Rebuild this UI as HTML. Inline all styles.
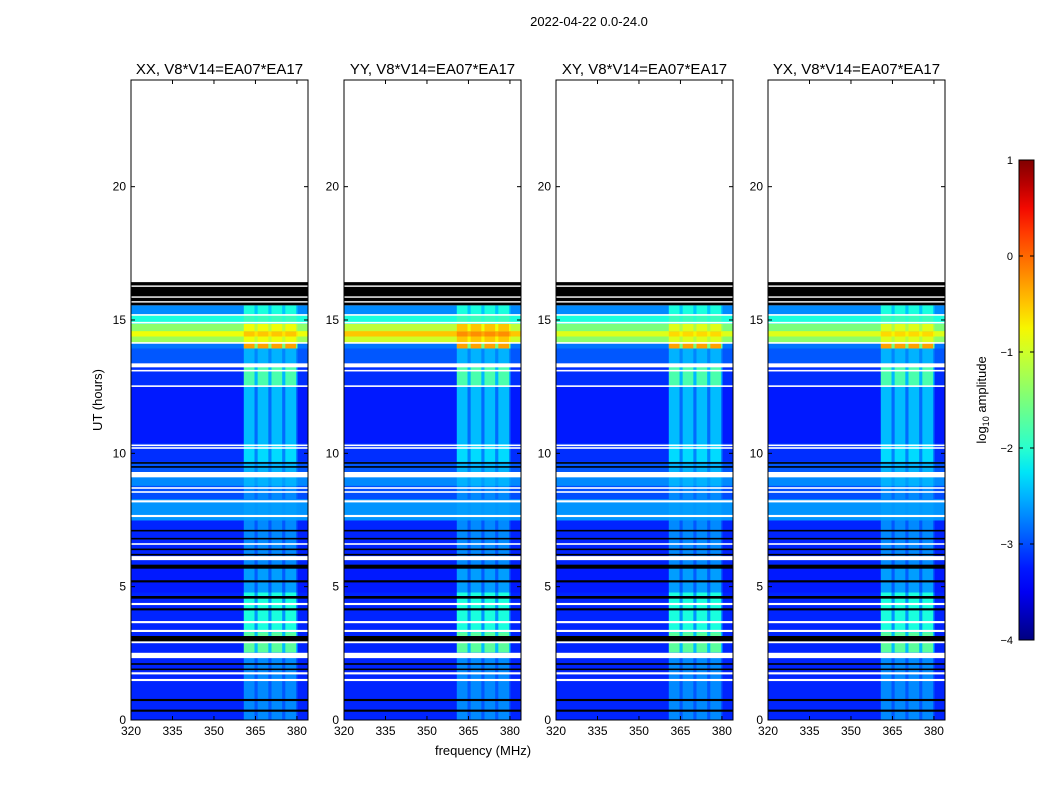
<!DOCTYPE html>
<html><head><meta charset="utf-8"><style>
body{margin:0;background:#fff;}
svg text{font-family:"Liberation Sans",sans-serif;fill:#000;}
</style></head><body>
<svg id="chart" width="1050" height="800" viewBox="0 0 1050 800" xmlns="http://www.w3.org/2000/svg">
<rect width="1050" height="800" fill="#fff"/>
<text x="589" y="26" font-size="13" text-anchor="middle">2022-04-22 0.0-24.0</text>
<text x="483" y="755" font-size="13" text-anchor="middle">frequency (MHz)</text>
<text transform="translate(102,400) rotate(-90)" font-size="13" text-anchor="middle">UT (hours)</text>
<g id="panels"></g>
<g id="cbar"></g>
</svg>
<script>
// ---- data ----
const panelTitles = ["XX, V8*V14=EA07*EA17","YY, V8*V14=EA07*EA17","XY, V8*V14=EA07*EA17","YX, V8*V14=EA07*EA17"];
const xTicks = [320,335,350,365,380];
const yTicks = [0,5,10,15,20];
const cbarTicks = [1,0,-1,-2,-3,-4];
// time bands: start hr, end hr, background log10 amp, RFI-column log10 amp
const bandStart = [0,   2.55, 3.3, 4.8, 5.8, 7.5, 8.3, 8.8, 9.3, 9.7, 10.4, 12.55, 13.4, 13.95, 14.15, 14.4, 14.6, 14.87, 15.2];
const bandEnd   = [2.55,3.3,  4.8, 5.8, 7.5, 8.3, 8.8, 9.3, 9.7, 10.4, 12.55,13.4, 13.95, 14.15, 14.4, 14.6, 14.87, 15.2, 15.55];
const bandBg    = [-3.2,-3.2,-3.2,-3.25,-3.2,-2.65,-3.0,-2.7,-2.95,-3.15,-3.25,-3.15,-2.95,-2.8,-1.3,-0.8,-1.4,-2.1,-2.7];
const bandRfi   = [-2.7,-1.7,-2.1,-2.6,-2.7,-2.6,-2.7,-2.5,-2.5,-2.3,-2.45,-1.8,-2.5,-0.3,-0.8,-0.5,-0.8,-1.9,-2.1];
// per-panel offsets for the strong 14.2-14.8 h band
const panelBandBoost = [0, 0.3, -0.1, -0.1];
// RFI channel groups (MHz)
const rfiLo = [360.8, 365.8, 370.8, 375.8];
const rfiHi = [365.2, 370.2, 375.2, 380.2];
// flagged rows (white) center hr, thickness hr
const whiteT = [1.5,1.75,2.42,2.92,3.34,3.67,4.35,6.07,6.6,7.65,8.2,8.55,8.7,9.2,10.2,10.3,12.52,13.1,13.3,14.14,14.9,15.19];
const whiteW = [0.08,0.08,0.2,0.08,0.08,0.08,0.08,0.15,0.06,0.08,0.08,0.06,0.06,0.2,0.06,0.06,0.06,0.06,0.15,0.06,0.06,0.06];
// dark rows (black) center hr, thickness hr
const blackT = [0.35,0.75,1.9,2.1,3.05,4.15,4.6,5.2,5.75,6.2,6.4,6.8,7.1,9.49,9.64];
const blackW = [0.08,0.08,0.06,0.06,0.2,0.08,0.1,0.08,0.15,0.06,0.06,0.06,0.06,0.06,0.06];
// black flagged block and white lines within it
const blockStart = 15.55, blockEnd = 16.42;
const blockWhite = [15.68,15.86,16.27];

// ---- helpers ----
function jet(v){
  v=Math.max(0,Math.min(1,v));
  const r=Math.max(0,Math.min(1,v<0.89?(v-0.35)/0.31:1-(v-0.89)/0.22));
  const g=Math.max(0,Math.min(1,v<0.64?(v-0.125)/0.25:(0.91-v)/0.27));
  const b=Math.max(0,Math.min(1,v<0.34?0.5+v/0.22:(0.65-v)/0.31));
  return `rgb(${Math.round(r*255)},${Math.round(g*255)},${Math.round(b*255)})`;
}
const col = lv => jet((lv+4)/5);
const NS="http://www.w3.org/2000/svg";
function mk(tag,attrs,parent){const e=document.createElementNS(NS,tag);for(const k in attrs)e.setAttribute(k,attrs[k]);parent.appendChild(e);return e;}

const panelX=[131,344,556,768], PW=177, PT=80, PH=640;
const panels=document.getElementById('panels');
panelX.forEach((x0,pi)=>{
  const g=mk('g',{},panels);
  
  
  const xs=f=>x0+(f-320)/64*PW;
  const ys=t=>PT+PH-t/24*PH;
  bandStart.forEach((t0,i)=>{
    const boost=(bandStart[i]>=14.15&&bandEnd[i]<=14.87)?panelBandBoost[pi]:0;
    const r=mk('rect',{x:x0,y:ys(bandEnd[i]),width:PW,height:ys(t0)-ys(bandEnd[i])+0.5,fill:col(bandBg[i]+boost)},g);
    
    
    const gap=mk('rect',{x:xs(rfiLo[0]),y:ys(bandEnd[i]),width:xs(rfiHi[3])-xs(rfiLo[0]),height:ys(t0)-ys(bandEnd[i])+0.5,fill:col((bandBg[i]+bandRfi[i])/2+boost)},g);
    
    
    rfiLo.forEach((lo,j)=>{
      const c=mk('rect',{x:xs(lo),y:ys(bandEnd[i]),width:xs(rfiHi[j])-xs(lo)-1.5,height:ys(t0)-ys(bandEnd[i])+0.5,fill:col(bandRfi[i]+boost)},g);
      
      
    });
  });
  const blk=mk('rect',{x:x0,y:ys(blockEnd),width:PW,height:ys(blockStart)-ys(blockEnd),fill:'#000'},g);
  
  
  blockWhite.forEach(t=>{const l=mk('rect',{x:x0,y:ys(t)-0.7,width:PW,height:1.4,fill:'#fff'},g);
    });
  whiteT.forEach((t,i)=>{const l=mk('rect',{x:x0,y:ys(t+whiteW[i]/2),width:PW,height:whiteW[i]/24*PH,fill:'#fff'},g);
    });
  blackT.forEach((t,i)=>{const l=mk('rect',{x:x0,y:ys(t+blackW[i]/2),width:PW,height:blackW[i]/24*PH,fill:'#000'},g);
    });
  const fr=mk('rect',{x:x0,y:PT,width:PW,height:PH,fill:'none',stroke:'#000','stroke-width':1},g);
  
  const tt=mk('text',{x:x0+PW/2,y:74,'font-size':15,'text-anchor':'middle'},g);tt.textContent=panelTitles[pi];
  
  xTicks.forEach(v=>{const x=xs(v);
    mk('line',{x1:x,x2:x,y1:PT+PH,y2:PT+PH-4,stroke:'#000'},g);
    mk('line',{x1:x,x2:x,y1:PT,y2:PT+4,stroke:'#000'},g);
    const t=mk('text',{x:x,y:PT+PH+15,'font-size':12,'text-anchor':'middle'},g);t.textContent=v;
    });
  yTicks.forEach(v=>{const y=ys(v);
    mk('line',{x1:x0,x2:x0+4,y1:y,y2:y,stroke:'#000'},g);
    mk('line',{x1:x0+PW,x2:x0+PW-4,y1:y,y2:y,stroke:'#000'},g);
    const t=mk('text',{x:x0-5,y:y+4,'font-size':12,'text-anchor':'end'},g);t.textContent=v;
    });
});

// colorbar
const cb=document.getElementById('cbar');


const CX=1019,CW=15,CT=160,CH=480;
const defs=mk('defs',{},cb);
const grad=mk('linearGradient',{id:'jetg',x1:0,y1:1,x2:0,y2:0},defs);
for(let i=0;i<=20;i++) mk('stop',{offset:i/20,'stop-color':jet(i/20)},grad);
mk('rect',{x:CX,y:CT,width:CW,height:CH,fill:'url(#jetg)',stroke:'#000'},cb);
cbarTicks.forEach(v=>{const y=CT+(1-v)/5*CH;
  mk('line',{x1:CX,x2:CX+4,y1:y,y2:y,stroke:'#000'},cb);
  mk('line',{x1:CX+CW,x2:CX+CW-4,y1:y,y2:y,stroke:'#000'},cb);
  const t=mk('text',{x:1013,y:y+4,'font-size':11,'text-anchor':'end'},cb);t.textContent=v<0?'\u2212'+(-v):v;
  });
const cl=mk('text',{transform:'translate(986,400) rotate(-90)','font-size':13,'text-anchor':'middle'},cb);
cl.innerHTML='log<tspan font-size="9" dy="3">10</tspan><tspan dy="-3"> amplitude</tspan>';


</script>
</body></html>
